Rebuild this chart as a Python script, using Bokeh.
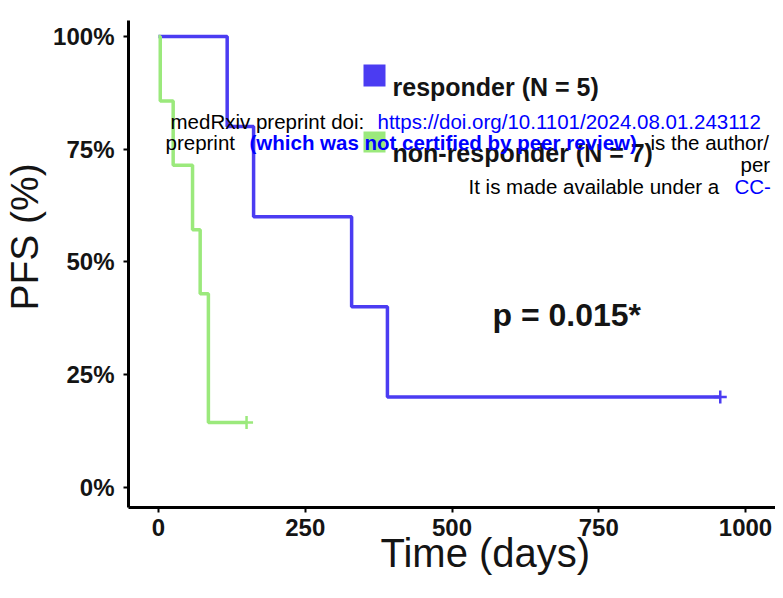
import math
from bokeh.plotting import figure
from bokeh.models import FixedTicker, Label, BoxAnnotation
from bokeh.embed import file_html
from bokeh.resources import INLINE

# ---- data ----
resp_time = [0, 117, 162, 329, 390, 957]
resp_surv = [1.0, 0.8, 0.6, 0.4, 0.2, 0.2]
resp_censor_time = [957]
resp_censor_surv = [0.2]

nonresp_time = [0, 3, 25, 58, 71, 85, 150]
nonresp_surv = [1.0, 0.857, 0.714, 0.571, 0.429, 0.143, 0.143]
nonresp_censor_time = [150]
nonresp_censor_surv = [0.143]

x_ticks = [0, 250, 500, 750, 1000]
x_tick_labels = ["0", "250", "500", "750", "1000"]
y_ticks = [0, 0.25, 0.5, 0.75, 1.0]
y_tick_labels = ["0%", "25%", "50%", "75%", "100%"]

legend_labels = ["responder (N = 5)", "non-responder (N = 7)"]
p_value_text = "p = 0.015*"
x_title = "Time (days)"
y_title = "PFS (%)"

BLUE = "#4b3cf2"
GREEN = "#9be97c"
TXT = "#141414"
FONT = "Liberation Sans"
NB = "\u00a0"

p = figure(width=775, height=582, x_range=(-51.1, 1051.1), y_range=(-0.0454, 1.0354),
           output_backend="svg", toolbar_location=None,
           min_border_left=128, min_border_right=0, min_border_top=20, min_border_bottom=75)
p.background_fill_color = "white"
p.border_fill_color = "white"
p.outline_line_color = None
p.xgrid.visible = False
p.ygrid.visible = False

for ax in (p.xaxis, p.yaxis):
    ax.axis_line_width = 3
    ax.axis_line_color = "black"
    ax.major_tick_line_width = 2
    ax.major_tick_line_color = "black"
    ax.major_tick_in = 0
    ax.major_tick_out = 5
    ax.minor_tick_line_color = None
    ax.major_label_text_font = FONT
    ax.major_label_text_font_size = "24px"
    ax.major_label_text_font_style = "bold"
    ax.major_label_text_color = TXT
    ax.axis_label_text_font = FONT
    ax.axis_label_text_font_style = "normal"
    ax.axis_label_text_color = TXT

p.xaxis.ticker = FixedTicker(ticks=x_ticks)
p.xaxis.major_label_overrides = {t: s for t, s in zip(x_ticks, x_tick_labels)}
p.xaxis.major_label_standoff = 6
p.xaxis.axis_label = NB * 6 + x_title
p.xaxis.axis_label_text_font_size = "40px"
p.xaxis.axis_label_standoff = -8

p.yaxis.ticker = FixedTicker(ticks=y_ticks)
p.yaxis.major_label_overrides = {t: s for t, s in zip(y_ticks, y_tick_labels)}
p.yaxis.major_label_standoff = 9
p.yaxis.axis_label = NB * 5 + y_title
p.yaxis.axis_label_text_font_size = "39px"
p.yaxis.axis_label_standoff = 4

# ---- curves ----
p.step(resp_time, resp_surv, mode="after", line_color=BLUE, line_width=3.5)
p.step(nonresp_time, nonresp_surv, mode="after", line_color=GREEN, line_width=3.5)
p.scatter(resp_censor_time, resp_censor_surv, marker="cross", size=13, line_width=2.5, line_color=BLUE)
p.scatter(nonresp_censor_time, nonresp_censor_surv, marker="cross", size=13, line_width=2.5, line_color=GREEN)

# ---- legend (manual) ----
p.add_layout(BoxAnnotation(left=235, right=257, top=443, bottom=421,
                           left_units="screen", right_units="screen", top_units="screen", bottom_units="screen",
                           fill_color=BLUE, fill_alpha=1.0, line_color=None))
p.add_layout(BoxAnnotation(left=235, right=257, top=376, bottom=355,
                           left_units="screen", right_units="screen", top_units="screen", bottom_units="screen",
                           fill_color=GREEN, fill_alpha=1.0, line_color=None))
for txt, yy in zip(legend_labels, [421, 355]):
    p.add_layout(Label(x=264, y=yy, x_units="screen", y_units="screen", text=txt,
                       text_font=FONT, text_font_size="25px", text_font_style="bold",
                       text_color=TXT, text_align="left", text_baseline="alphabetic"))

# p-value
p.add_layout(Label(x=364, y=193, x_units="screen", y_units="screen", text=p_value_text,
                   text_font=FONT, text_font_size="32px", text_font_style="bold",
                   text_color=TXT, text_align="left", text_baseline="alphabetic"))

# ---- medRxiv header overlay ----
wm = [
    (42, 386, "medRxiv preprint doi:", "black", "normal"),
    (249, 386, "https://doi.org/10.1101/2024.08.01.243112", "#0000ff", "normal"),
    (37, 365, "preprint", "black", "normal"),
    (121, 365, "(which was not certified by peer review)", "#0000ff", "bold"),
    (522, 365, "is the author/", "black", "normal"),
    (612, 343, "per", "black", "normal"),
    (340, 321, "It is made available under a", "black", "normal"),
    (606, 321, "CC-", "#0000ff", "normal"),
]
for x, y, t, c, st in wm:
    p.add_layout(Label(x=x, y=y, x_units="screen", y_units="screen", text=t,
                       text_font=FONT, text_font_size="20.5px", text_font_style=st,
                       text_color=c, text_align="left", text_baseline="alphabetic"))

open("out.html", "w").write(file_html(p, INLINE))
